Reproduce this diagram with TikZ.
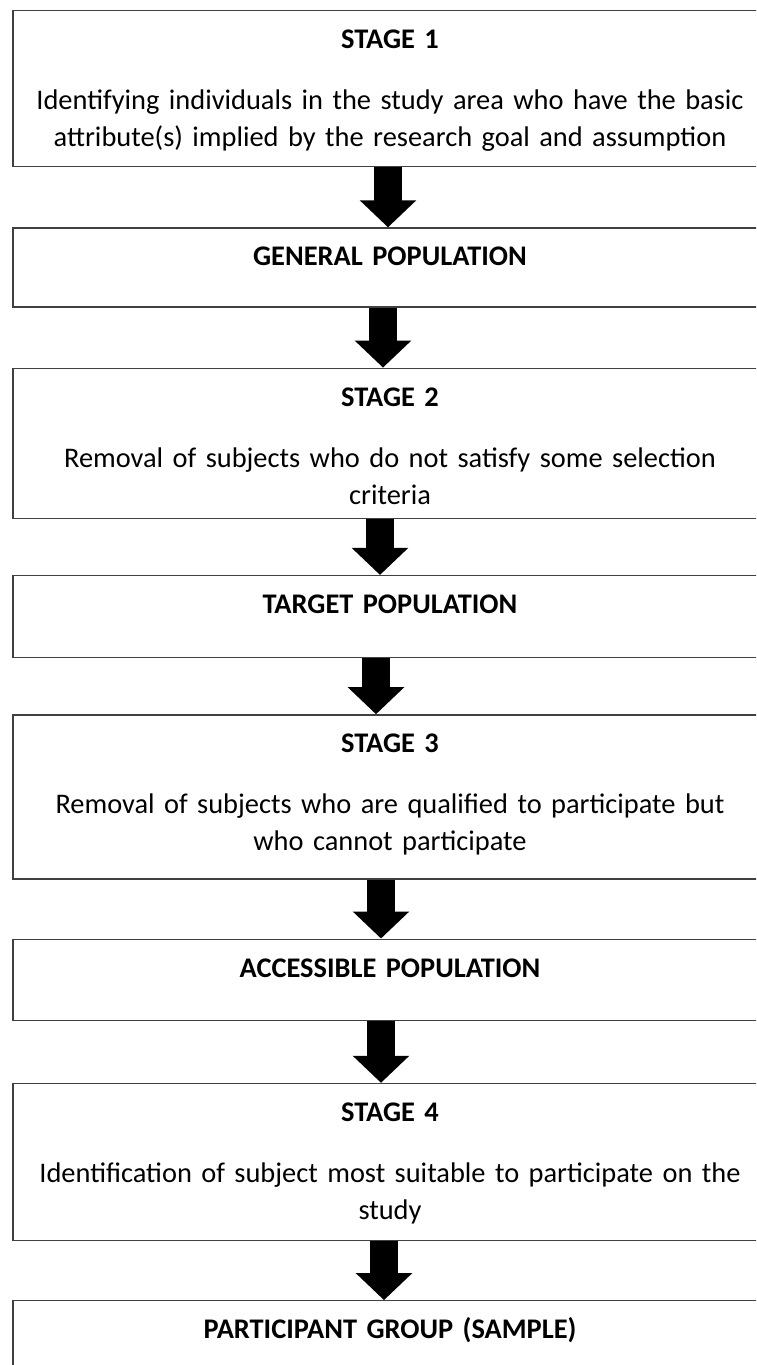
\documentclass[tikz,border=0pt]{standalone}
\usepackage{fontspec}
\setmainfont{Carlito}
\usetikzlibrary{positioning,arrows.meta}

\begin{document}
\begin{tikzpicture}[x=1pt, y=1pt,
    box/.style={draw=black!75, line width=1.3pt, text width=740pt, align=center,
        inner xsep=7pt, inner ysep=0pt, text height=38pt,
        font=\fontsize{28.4}{37}\selectfont},
    flow/.style={line width=28pt, -{Triangle[width=55pt, length=27pt]}}]
    \useasboundingbox (0,0) rectangle (756,-1365);
    \clip (0,0) rectangle (756,-1365);

    % Stages and populations
    \node[box, text depth=118pt, anchor=north] (stage1) at (390,-10)
        {\textbf{STAGE 1}\\[24pt]
         Identifying individuals in the study area who have the basic\\
         attribute(s) implied by the research goal and assumption};
    \node[box, text depth=41pt, below=60pt of stage1] (general) {\textbf{GENERAL POPULATION}};
    \node[box, text depth=112pt, below=60pt of general] (stage2)
        {\textbf{STAGE 2}\\[24pt]
         Removal of subjects who do not satisfy some selection\\
         criteria};
    \node[box, text depth=44pt, below=56pt of stage2] (target) {\textbf{TARGET POPULATION}};
    \node[box, text depth=126pt, below=56pt of target] (stage3)
        {\textbf{STAGE 3}\\[24pt]
         Removal of subjects who are qualified to participate but\\
         who cannot participate};
    \node[box, text depth=43pt, below=59pt of stage3] (access) {\textbf{ACCESSIBLE POPULATION}};
    \node[box, text depth=119pt, below=62pt of access] (stage4)
        {\textbf{STAGE 4}\\[24pt]
         Identification of subject most suitable to participate on the\\
         study};
    \node[box, text depth=82pt, below=59pt of stage4] (sample) {\textbf{PARTICIPANT GROUP (SAMPLE)}};

    % Block arrows
    \draw[flow] ([xshift=-2pt]stage1.south) -- ([xshift=-2pt]general.north);
    \draw[flow] ([xshift=-7pt]general.south) -- ([xshift=-7pt]stage2.north);
    \draw[flow] ([xshift=-10pt]stage2.south) -- ([xshift=-10pt]target.north);
    \draw[flow] ([xshift=-14pt]target.south) -- ([xshift=-14pt]stage3.north);
    \draw[flow] ([xshift=-9pt]stage3.south) -- ([xshift=-9pt]access.north);
    \draw[flow] ([xshift=-9pt]access.south) -- ([xshift=-9pt]stage4.north);
    \draw[flow] ([xshift=-6pt]stage4.south) -- ([xshift=-6pt]sample.north);
\end{tikzpicture}
\end{document}
